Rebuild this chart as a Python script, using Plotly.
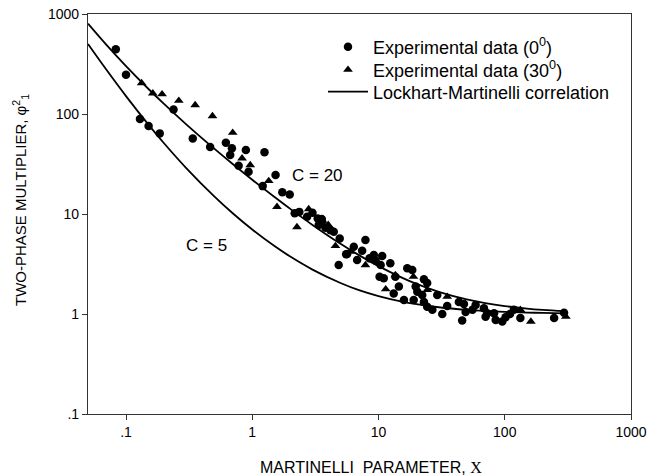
import plotly.graph_objects as go

# Experimental data (0 deg) - circles
x0 = [0.083, 0.10, 0.129, 0.151, 0.185, 0.238, 0.338, 0.464, 0.618, 0.69, 0.669, 0.89, 0.78, 0.935,
      1.25, 1.21, 1.53, 1.73, 1.98, 2.36, 2.17, 2.72, 3.55, 3.57, 3.36, 4.16, 4.93, 5.54, 6.37, 7.88,
      9.18, 10.7, 3.0, 3.3, 3.8, 4.42, 5.64, 4.84, 6.77, 7.42, 10.4, 12.4, 10.2, 16.9, 18.5, 13.6, 11.0,
      14.5, 13.2, 22.9, 24.3, 19.7, 20.3, 22.2, 15.9, 19.0, 22.9, 24.3, 29.2, 26.7, 32.0, 35.0, 43.3,
      47.5, 46.0, 49.0, 55.5, 58.8, 68.4, 72.7, 70.5, 82.3, 84.8, 95.6, 101.5, 110.0, 118.0, 133.0,
      246.0, 295.0, 8.5, 9.5]
y0 = [444, 247, 89, 76, 64, 111, 57, 46.8, 51.6, 45.4, 38.9, 43.7, 30.4, 26.5,
      41.4, 19.0, 24.5, 16.5, 15.7, 10.5, 10.2, 9.4, 8.9, 8.4, 7.76, 6.9, 5.7, 3.95, 4.7, 5.5,
      3.9, 3.8, 10.3, 9.0, 7.3, 6.66, 3.98, 3.09, 3.47, 4.3, 3.09, 3.22, 2.36, 2.87, 2.75, 2.36, 2.28,
      1.88, 1.6, 2.22, 2.04, 1.88, 1.67, 1.55, 1.38, 1.38, 1.32, 1.18, 1.55, 1.1, 1.0, 1.2, 1.32,
      1.26, 0.86, 1.05, 1.1, 1.23, 1.14, 1.02, 0.94, 1.02, 0.87, 0.84, 0.93, 1.0, 1.1, 0.91,
      0.91, 1.03, 3.6, 3.4]

# Experimental data (30 deg) - triangles
x30 = [0.133, 0.163, 0.193, 0.262, 0.353, 0.484, 0.70, 0.83, 0.964, 1.35, 1.57, 2.8, 2.26, 4.56,
       3.6, 11.4, 7.88, 13.6, 18.9, 35.0, 24.3, 161.0, 305.0, 133.0, 4.0, 6.0]
y30 = [204, 161, 158, 136, 123, 95.5, 65, 36, 30.9, 21.4, 11.8, 11.2, 7.4, 4.8,
       8.6, 1.77, 3.09, 2.45, 2.36, 1.49, 1.74, 0.84, 0.94, 1.1, 7.8, 4.2]

# Lockhart-Martinelli correlation curves
x_corr = [0.05, 0.07, 0.1, 0.15, 0.2, 0.3, 0.5, 0.7, 1, 1.5, 2, 3, 5, 7, 10, 15, 20, 30, 50, 70,
          100, 150, 200, 300]
y_c20 = [801, 490.8, 301, 178.8, 126, 78.8, 45, 31.6, 22, 14.8, 11.25, 7.78, 5.04, 3.88, 3.01,
         2.34, 2.0, 1.668, 1.40, 1.286, 1.20, 1.133, 1.10, 1.067]
y_c5 = [501, 276.5, 151, 78.8, 51, 28.8, 15, 10.18, 7, 4.78, 3.75, 2.78, 2.04, 1.73, 1.51,
        1.338, 1.2525, 1.168, 1.10, 1.0716, 1.05, 1.0334, 1.025, 1.0167]

x_tickvals = [0.1, 1, 10, 100, 1000]
x_ticktext = [".1", "1", "10", "100", "1000"]
y_tickvals = [0.1, 1, 10, 100, 1000]
y_ticktext = [".1", "1", "10", "100", "1000"]

FONT = "Arial, Liberation Sans, sans-serif"

fig = go.Figure()
fig.add_trace(go.Scatter(x=x0, y=y0, mode="markers", name="Experimental data (0<sup>0</sup>)",
                         legend="legend",
                         marker=dict(symbol="circle", size=8.5, color="black")))
fig.add_trace(go.Scatter(x=x30, y=y30, mode="markers", name="Experimental data (30<sup>0</sup>)",
                         legend="legend2",
                         marker=dict(symbol="triangle-up", size=8.5, color="black")))
fig.add_trace(go.Scatter(x=x_corr, y=y_c20, mode="lines", name="Lockhart-Martinelli correlation",
                         legend="legend3",
                         line=dict(color="black", width=1.8, shape="spline")))
fig.add_trace(go.Scatter(x=x_corr, y=y_c5, mode="lines", showlegend=False,
                         line=dict(color="black", width=1.8, shape="spline")))

fig.add_annotation(x=0.52, y=1.389, xref="x", yref="y", text="C = 20", showarrow=False,
                   font=dict(size=17, color="black", family=FONT))
fig.add_annotation(x=-0.36, y=0.69, xref="x", yref="y", text="C = 5", showarrow=False,
                   font=dict(size=17, color="black", family=FONT))

# screen-pixel layout (page body margin removed below)
W, H = 661, 476
L, T = 88, 14
R = W - 631
B = H - 414
pw, ph = W - L - R, H - T - B


def px2paper(sx, sy):
    return (sx - L) / pw, (H - B - sy) / ph


ax_, ay_ = px2paper(371, 467)
fig.add_annotation(x=ax_, y=ay_, xref="paper", yref="paper", showarrow=False,
                   xanchor="center", yanchor="middle",
                   text="MARTINELLI  PARAMETER, <span style='font-family:Times New Roman, Liberation Serif, serif'>X</span>",
                   font=dict(size=16, color="black", family=FONT))
ax_, ay_ = px2paper(20, 200)
fig.add_annotation(x=ax_, y=ay_, xref="paper", yref="paper", showarrow=False, textangle=-90,
                   xanchor="center", yanchor="middle",
                   text="TWO-PHASE MULTIPLIER, φ<sup>2</sup><sub>1</sub>",
                   font=dict(size=15, color="black", family=FONT))

axis_common = dict(showgrid=False, zeroline=False, showline=True, linecolor="#333333", linewidth=1.2,
                   mirror=True, ticks="outside", ticklen=5, tickcolor="#333333", automargin=False,
                   ticklabeloverflow="allow",
                   tickfont=dict(size=14, color="black", family=FONT))

fig.update_xaxes(type="log", range=[-1.30103, 3], tickvals=x_tickvals, ticktext=x_ticktext,
                 **axis_common)
fig.update_yaxes(type="log", range=[-1, 3], tickvals=y_tickvals, ticktext=y_ticktext,
                 **axis_common)

leg_common = dict(xanchor="left", yanchor="middle", bgcolor="rgba(0,0,0,0)",
                  font=dict(size=18, color="black", family=FONT), itemwidth=40)
lx, _ = px2paper(323, 0)
_, ly1 = px2paper(0, 47)
_, ly2 = px2paper(0, 70)
_, ly3 = px2paper(0, 92)

fig.update_layout(
    width=W, height=H,
    margin=dict(l=L, r=R, t=T, b=B),
    plot_bgcolor="white", paper_bgcolor="white",
    font=dict(family=FONT, color="black"),
    hovermode=False,
    legend=dict(x=lx, y=ly1, **leg_common),
    legend2=dict(x=lx, y=ly2, **leg_common),
    legend3=dict(x=lx, y=ly3, **leg_common),
)

fig.write_html("out.html", config={"displayModeBar": False},
               post_script="document.body.style.margin='0';document.body.style.overflow='hidden';")
